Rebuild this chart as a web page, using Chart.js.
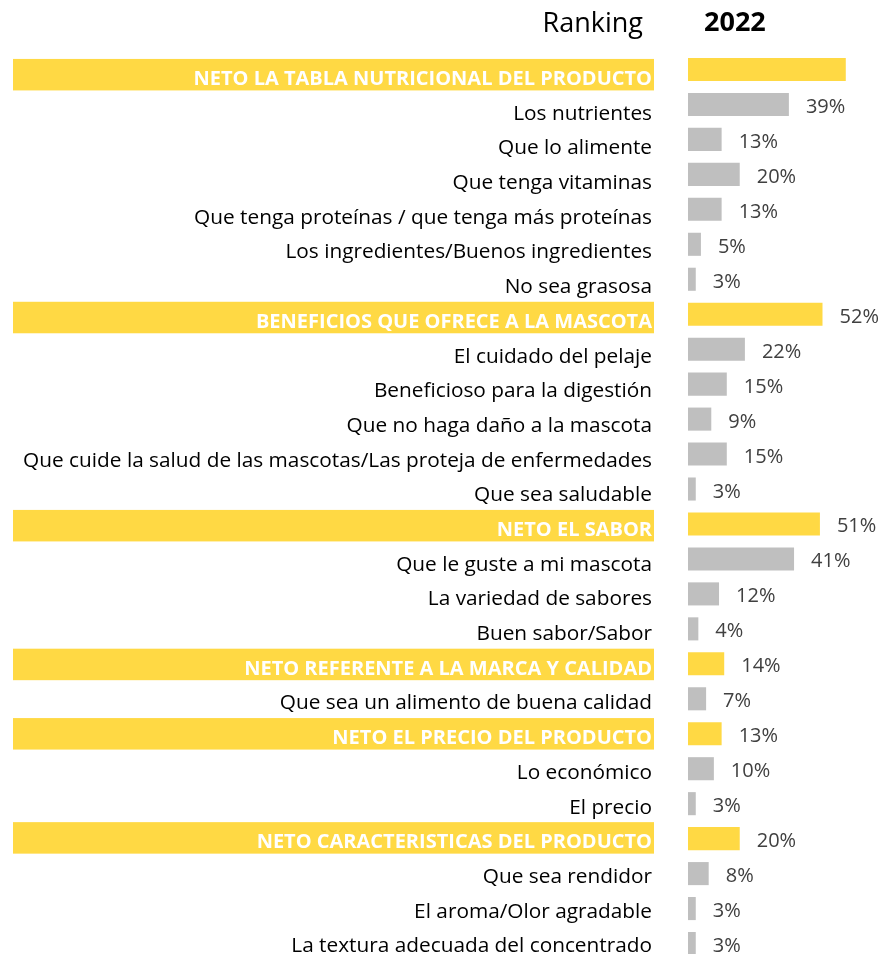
<!DOCTYPE html>
<html>
<head>
<meta charset="utf-8">
<script src="https://cdn.jsdelivr.net/npm/chart.js@4.4.1/dist/chart.umd.min.js"></script>
<style>
  html, body { margin: 0; padding: 0; background: #ffffff; overflow: hidden; }
  canvas { display: block; }
</style>
</head>
<body>
<canvas id="c" width="884" height="962"></canvas>
<script>
const categories = [
  "NETO LA TABLA NUTRICIONAL DEL PRODUCTO",
  "Los nutrientes",
  "Que lo alimente",
  "Que tenga vitaminas",
  "Que tenga proteínas / que tenga más proteínas",
  "Los ingredientes/Buenos ingredientes",
  "No sea grasosa",
  "BENEFICIOS QUE OFRECE A LA MASCOTA",
  "El cuidado del pelaje",
  "Beneficioso para la digestión",
  "Que no haga daño a la mascota",
  "Que cuide la salud de las mascotas/Las proteja de enfermedades",
  "Que sea saludable",
  "NETO EL SABOR",
  "Que le guste a mi mascota",
  "La variedad de sabores",
  "Buen sabor/Sabor",
  "NETO REFERENTE A LA MARCA Y CALIDAD",
  "Que sea un alimento de buena calidad",
  "NETO EL PRECIO DEL PRODUCTO",
  "Lo económico",
  "El precio",
  "NETO CARACTERISTICAS DEL PRODUCTO",
  "Que sea rendidor",
  "El aroma/Olor agradable",
  "La textura adecuada del concentrado"
];
const isNet = [1,0,0,0,0,0,0,1,0,0,0,0,0,1,0,0,0,1,0,1,0,0,1,0,0,0];
const values2022 = [61,39,13,20,13,5,3,52,22,15,9,15,3,51,41,12,4,14,7,13,10,3,20,8,3,3];
const valueLabels = ["","39%","13%","20%","13%","5%","3%","52%","22%","15%","9%","15%","3%","51%","41%","12%","4%","14%","7%","13%","10%","3%","20%","8%","3%","3%"];
const headerLabels = ["Ranking", "2022"];

const YELLOW = "#FFD944";
const GREY = "#BFBFBF";
const FONT = "'Open Sans', 'Liberation Sans', sans-serif";

// the text column of the original table runs on a slightly tighter grid than the bars
function textShift(i) { return 5.2 - 0.27 * i; }

const rowLabelPlugin = {
  id: "rowLabels",
  beforeDatasetsDraw(chart) {
    const ctx = chart.ctx;
    const y = chart.scales.y;
    ctx.save();
    categories.forEach((c, i) => {
      const cy = y.getPixelForValue(i) + textShift(i);
      if (isNet[i]) {
        ctx.fillStyle = YELLOW;
        ctx.fillRect(13, cy - 15.75, 641, 31.5);
        ctx.fillStyle = "#FFFFFF";
        ctx.font = "bold 20px " + FONT;
      } else {
        ctx.fillStyle = "#000000";
        ctx.font = "20.8px " + FONT;
      }
      ctx.textAlign = "right";
      ctx.textBaseline = "alphabetic";
      ctx.fillText(c, 652, cy + 10.3);
    });
    ctx.restore();
  }
};

const labelPlugin = {
  id: "vlabels",
  afterDatasetsDraw(chart) {
    const ctx = chart.ctx;
    const meta = chart.getDatasetMeta(0);
    ctx.save();
    ctx.font = "20px " + FONT;
    ctx.fillStyle = "#404040";
    ctx.textAlign = "left";
    ctx.textBaseline = "alphabetic";
    meta.data.forEach((bar, i) => {
      if (!valueLabels[i]) return;
      ctx.fillText(valueLabels[i], bar.x + 17, bar.y + 8.5);
    });
    ctx.restore();
  }
};

const headerPlugin = {
  id: "header",
  afterDraw(chart) {
    const ctx = chart.ctx;
    ctx.save();
    ctx.fillStyle = "#000000";
    ctx.textBaseline = "alphabetic";
    ctx.textAlign = "right";
    ctx.font = "27px " + FONT;
    ctx.fillText(headerLabels[0], 643, 32);
    ctx.textAlign = "left";
    ctx.font = "bold 27px " + FONT;
    ctx.fillText(headerLabels[1], 704, 31);
    ctx.restore();
  }
};

new Chart(document.getElementById("c"), {
  type: "bar",
  data: {
    labels: categories,
    datasets: [{
      data: values2022,
      backgroundColor: values2022.map((v, i) => isNet[i] ? YELLOW : GREY),
      barPercentage: 0.66,
      categoryPercentage: 1.0
    }]
  },
  options: {
    indexAxis: "y",
    responsive: false,
    maintainAspectRatio: false,
    animation: false,
    layout: { padding: { top: 52, bottom: 1, left: 0, right: 2 } },
    plugins: { legend: { display: false }, tooltip: { enabled: false } },
    scales: {
      x: {
        min: 0, max: 75,
        display: false
      },
      y: {
        grid: { display: false, drawTicks: false },
        border: { display: false },
        afterFit(scale) {
          scale.width = 688;
          scale.paddingTop = 0;
          scale.paddingBottom = 0;
        },
        ticks: { display: false, autoSkip: false }
      }
    }
  },
  plugins: [rowLabelPlugin, labelPlugin, headerPlugin]
});
</script>
</body>
</html>
